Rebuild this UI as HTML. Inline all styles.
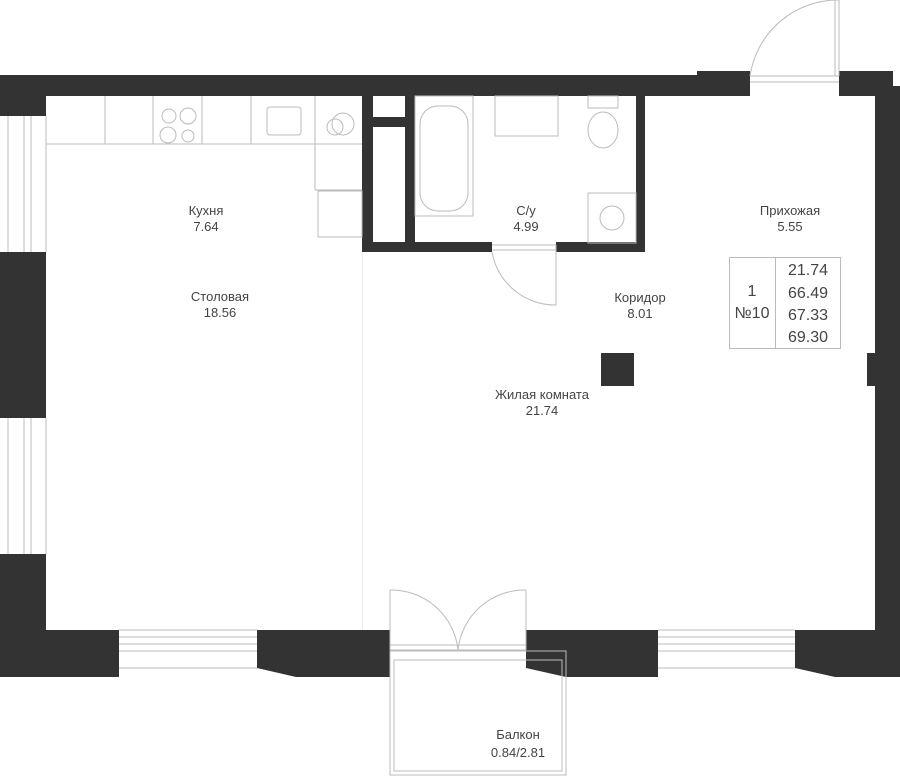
<!DOCTYPE html>
<html><head><meta charset="utf-8"><style>
html,body{margin:0;padding:0;background:#fff;width:900px;height:776px;overflow:hidden}
text{font-family:"Liberation Sans",sans-serif;fill:#444}
</style></head><body>
<svg width="900" height="776" viewBox="0 0 900 776" xmlns="http://www.w3.org/2000/svg">
<g fill="#333">
<!-- top wall -->
<rect x="0" y="75" width="750" height="21"/>
<rect x="697" y="71" width="53" height="25"/>
<rect x="839" y="71" width="54" height="25"/>
<rect x="839" y="86" width="61" height="10"/>
<rect x="875" y="86" width="25" height="544"/>
<rect x="867" y="353" width="33" height="33"/>
<!-- left -->
<rect x="0" y="75" width="46" height="41"/>
<rect x="0" y="252" width="46" height="166"/>
<rect x="0" y="554" width="46" height="76"/>
<!-- bottom -->
<rect x="0" y="630" width="119" height="47"/>
<polygon points="257,630 390,630 390,677 296,677 257,668"/>
<polygon points="526,630 658,630 658,677 566,677 526,668"/>
<polygon points="795,630 900,630 900,677 835,677 795,668"/>
<!-- bathroom walls -->
<rect x="362" y="96" width="11" height="156"/>
<rect x="405" y="96" width="10" height="156"/>
<rect x="373" y="117" width="32" height="10"/>
<rect x="362" y="242" width="130" height="10"/>
<rect x="556" y="242" width="89" height="10"/>
<rect x="636" y="96" width="9" height="156"/>
<rect x="601" y="353" width="33" height="33"/>
</g>
<g fill="none" stroke="#bbb" stroke-width="1">
<!-- left windows -->
<path d="M8,116V252M24,116V252M31,116V252M46,116V252M8,418V554M24,418V554M31,418V554M46,418V554"/>
<!-- bottom windows -->
<path d="M119,630H257M119,637H257M119,644H257M119,651H257M119,668H257M658,630H795M658,637H795M658,644H795M658,651H795M658,668H795"/>
<!-- entrance door -->
<path d="M750,76H839M750,82H839M839,0V76M835,0V76M750,76A89,89 0 0 1 839,0"/>
<!-- bathroom door -->
<path d="M492,245H556M492,250H556M556,245V305M492,252A64,64 0 0 0 556,305"/>
<!-- balcony door -->
<path d="M390,590V650M526,590V650M390,590A67,67 0 0 1 458,650M526,590A67,67 0 0 0 458,650M390,650H526M390,645H526"/>
<!-- balcony -->
<rect x="390" y="651" width="176" height="124"/>
<rect x="394" y="660" width="168" height="111"/>
<!-- kitchen -->
<path d="M46,144H362M105,96V144M153,96V144M202,96V144M251,96V144M315,96V190M315,190H362"/>
<rect x="318" y="191" width="44" height="46"/>
<circle cx="169" cy="116" r="7"/><circle cx="188" cy="116" r="8"/><circle cx="168" cy="135" r="8"/><circle cx="188" cy="136" r="6"/>
<rect x="267" y="107" width="34" height="28" rx="3"/>
<circle cx="335" cy="127" r="8"/><circle cx="343" cy="124" r="11"/>
<!-- bath -->
<rect x="415" y="96" width="58" height="120"/>
<rect x="420" y="106" width="48" height="105" rx="18"/>
<rect x="495" y="96" width="63" height="40"/>
<rect x="588" y="96" width="30" height="12"/>
<ellipse cx="603" cy="130" rx="15" ry="18"/>
<rect x="588" y="193" width="48" height="50"/>
<circle cx="612" cy="218" r="12"/>
<rect x="729.5" y="257.5" width="111" height="91"/>
<path d="M775.5,257V349"/>
<path d="M362.5,252V630" stroke="#eee"/>
</g>
<g font-size="13" text-anchor="middle">
<text x="206" y="215">Кухня</text><text x="206" y="231">7.64</text>
<text x="220" y="301">Столовая</text><text x="220" y="317">18.56</text>
<text x="526" y="215">С/у</text><text x="526" y="231">4.99</text>
<text x="790" y="215">Прихожая</text><text x="790" y="231">5.55</text>
<text x="640" y="302">Коридор</text><text x="640" y="318">8.01</text>
<text x="542" y="399">Жилая комната</text><text x="542" y="415">21.74</text>
<text x="518" y="739">Балкон</text><text x="518" y="757">0.84/2.81</text>
</g>
<g font-size="16" text-anchor="middle">
<text x="752" y="296">1</text><text x="752" y="318">№10</text>
<text x="808" y="275">21.74</text><text x="808" y="298">66.49</text><text x="808" y="320">67.33</text><text x="808" y="342">69.30</text>
</g>
</svg>
</body></html>
